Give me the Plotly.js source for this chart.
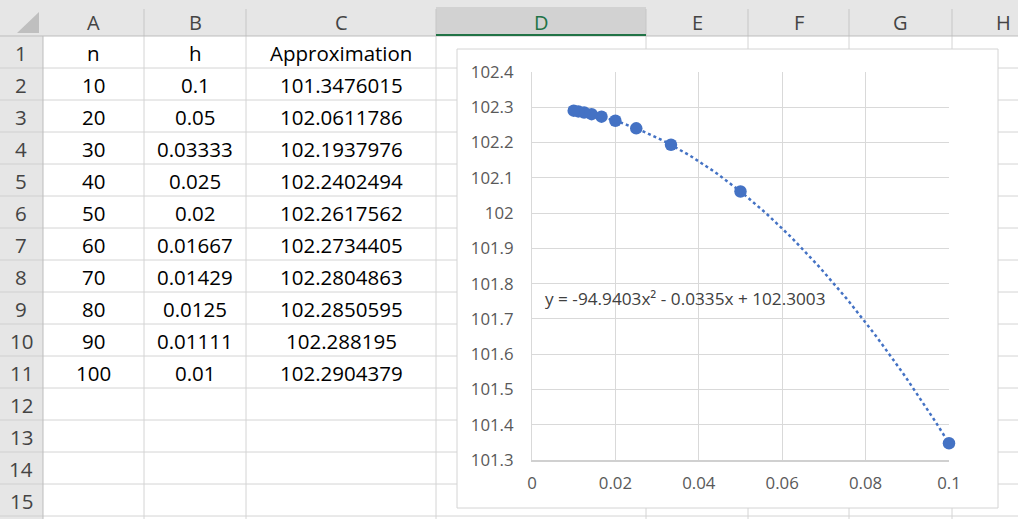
<!DOCTYPE html>
<html>
<head>
<meta charset="utf-8">
<script src="https://cdn.plot.ly/plotly-3.0.1.min.js"></script>
<style>html,body{margin:0;padding:0;background:#fff;overflow:hidden}#chart{width:1018px;height:519px}</style>
</head>
<body>
<div id="chart"></div>
<script>
// ---- data ----
var columnLetters = ["A", "B", "C", "D", "E", "F", "G", "H"];
var rowNumbers = [1, 2, 3, 4, 5, 6, 7, 8, 9, 10, 11, 12, 13, 14, 15];
var headerCells = ["n", "h", "Approximation"];
var nValues = [10, 20, 30, 40, 50, 60, 70, 80, 90, 100];
var hLabels = ["0.1", "0.05", "0.03333", "0.025", "0.02", "0.01667", "0.01429", "0.0125", "0.01111", "0.01"];
var hValues = [0.1, 0.05, 0.03333, 0.025, 0.02, 0.01667, 0.01429, 0.0125, 0.01111, 0.01];
var approxLabels = ["101.3476015", "102.0611786", "102.1937976", "102.2402494", "102.2617562", "102.2734405", "102.2804863", "102.2850595", "102.288195", "102.2904379"];
var approxValues = [101.3476015, 102.0611786, 102.1937976, 102.2402494, 102.2617562, 102.2734405, 102.2804863, 102.2850595, 102.288195, 102.2904379];
var equationText = "y = -94.9403x\u00b2 - 0.0335x + 102.3003";

// ---- layout geometry (pixels) ----
var W = 1018, H = 519;
var colEdges = [43, 144, 246, 436, 646, 748, 849, 952, 1060];
var headerTop = 7, headerBottom = 36, rowH = 32;
function px(x) { return x / W; }
function py(y) { return 1 - y / H; }

var shapes = [];
var ann = [];
function rect(x0, y0, x1, y1, fill, lineColor, lw) {
  shapes.push({type: "rect", xref: "paper", yref: "paper", layer: "below",
    x0: px(x0), x1: px(x1), y0: py(y1), y1: py(y0),
    fillcolor: fill, line: {color: lineColor || "rgba(0,0,0,0)", width: lw || 0}});
}
function line(x0, y0, x1, y1, color, lw) {
  shapes.push({type: "line", xref: "paper", yref: "paper", layer: "below",
    x0: px(x0), x1: px(x1), y0: py(y0), y1: py(y1), line: {color: color, width: lw || 1}});
}
function text(x, y, t, size, color, xanchor) {
  ann.push({xref: "paper", yref: "paper", x: px(x), y: py(y), text: t, showarrow: false,
    xanchor: xanchor || "center", yanchor: "middle",
    font: {family: "Open Sans, sans-serif", size: size, color: color}});
}

// header band and row-header column
rect(0, 0, W, headerBottom, "#e6e6e6");
rect(0, headerBottom, colEdges[0], H, "#e6e6e6");
// selected column D header
rect(colEdges[3], headerTop, colEdges[4], headerBottom, "#d2d2d2");
// header column separators
for (var i = 1; i < colEdges.length - 1; i++) line(colEdges[i], headerTop + 2, colEdges[i], headerBottom, "#c6c6c6", 1);
// row header separators
for (var r = 1; r <= rowNumbers.length; r++) {
  var yb = headerBottom + rowH * r;
  line(0, yb, colEdges[0], yb, "#d0d0d0", 1);
}
// sheet gridlines
for (var i = 1; i < colEdges.length - 1; i++) line(colEdges[i], headerBottom, colEdges[i], H, "#d4d4d4", 1);
for (var r = 1; r <= rowNumbers.length; r++) {
  var yb = headerBottom + rowH * r;
  line(colEdges[0], yb, W, yb, "#d4d4d4", 1);
}
// header borders
line(0, headerBottom, W, headerBottom, "#bdbdbd", 1);
line(colEdges[0], headerBottom, colEdges[0], H, "#bdbdbd", 1);
line(colEdges[3], headerBottom - 1, colEdges[4], headerBottom - 1, "#217346", 2);
// corner triangle
shapes.push({type: "path", xref: "paper", yref: "paper", layer: "below",
  path: "M " + px(17) + " " + py(33) + " L " + px(39) + " " + py(33) + " L " + px(39) + " " + py(12) + " Z",
  fillcolor: "#bfbfbf", line: {width: 0}});

// column letters
for (var i = 0; i < columnLetters.length; i++) {
  var cx = (colEdges[i] + colEdges[i + 1]) / 2;
  if (i === columnLetters.length - 1) cx = 1003;
  text(cx, 23, columnLetters[i], 20, i === 3 ? "#217346" : "#444444");
}
// row numbers
for (var r = 0; r < rowNumbers.length; r++) {
  text(21, headerBottom + rowH * r + 17, String(rowNumbers[r]), 20.5, "#444444");
}
// cell contents
function cellCenter(c) { return (colEdges[c] + colEdges[c + 1]) / 2; }
for (var c = 0; c < headerCells.length; c++) text(cellCenter(c), headerBottom + 17, headerCells[c], 20.5, "#000000");
for (var r = 0; r < nValues.length; r++) {
  var yc = headerBottom + rowH * (r + 1) + 17;
  text(cellCenter(0), yc, String(nValues[r]), 20.5, "#000000");
  text(cellCenter(1), yc, hLabels[r], 20.5, "#000000");
  text(cellCenter(2), yc, approxLabels[r], 20.5, "#000000");
}

// chart box
rect(457, 49, 998, 508, "#ffffff", "#d4d4d4", 1);

// equation label
ann.push({xref: "paper", yref: "paper", x: px(543), y: py(298), text: equationText, showarrow: false,
  xanchor: "left", yanchor: "middle", font: {family: "Open Sans, sans-serif", size: 17.2, color: "#404040"}});

// quadratic least-squares trendline computed from the data
function quadFit(xs, ys) {
  var S = [0, 0, 0, 0, 0], T = [0, 0, 0];
  for (var i = 0; i < xs.length; i++) {
    var p = 1;
    for (var k = 0; k < 5; k++) { S[k] += p; if (k < 3) T[k] += p * ys[i]; p *= xs[i]; }
  }
  var A = [[S[0], S[1], S[2], T[0]], [S[1], S[2], S[3], T[1]], [S[2], S[3], S[4], T[2]]];
  for (var i = 0; i < 3; i++) {
    for (var j = i + 1; j < 3; j++) {
      var f = A[j][i] / A[i][i];
      for (var k = i; k < 4; k++) A[j][k] -= f * A[i][k];
    }
  }
  var c = [0, 0, 0];
  for (var i = 2; i >= 0; i--) {
    var s = A[i][3];
    for (var k = i + 1; k < 3; k++) s -= A[i][k] * c[k];
    c[i] = s / A[i][i];
  }
  return c;
}
var coef = quadFit(hValues, approxValues);
var xMin = Math.min.apply(null, hValues), xMax = Math.max.apply(null, hValues);
var tx = [], ty = [];
for (var i = 0; i <= 120; i++) {
  var x = xMin + (xMax - xMin) * i / 120;
  tx.push(x); ty.push(coef[0] + coef[1] * x + coef[2] * x * x);
}

var traces = [
  {x: tx, y: ty, xaxis: "x", yaxis: "y", type: "scatter", mode: "lines", cliponaxis: false,
   line: {color: "#4472C4", width: 2.5, dash: "dot"}, hoverinfo: "skip"},
  {x: hValues, y: approxValues, xaxis: "x", yaxis: "y", type: "scatter", mode: "markers", cliponaxis: false,
   marker: {color: "#4472C4", size: 12.5, line: {width: 0}}}
];

var tickFont = {family: "Open Sans, sans-serif", size: 16.8, color: "#595959"};
var layout = {
  width: W, height: H, margin: {l: 0, r: 0, t: 0, b: 0},
  paper_bgcolor: "#ffffff", plot_bgcolor: "#ffffff", showlegend: false,
  xaxis: {domain: [px(532), px(949)], range: [0, 0.1], dtick: 0.02, tick0: 0,
    showgrid: true, gridcolor: "#d9d9d9", gridwidth: 1, zeroline: false,
    showline: true, linecolor: "#d0d0d0", linewidth: 1.5, ticks: "",
    tickfont: tickFont, ticklabelstandoff: 7, fixedrange: true},
  yaxis: {domain: [py(460), py(72)], range: [101.3, 102.4], dtick: 0.1, tick0: 101.3,
    showgrid: true, gridcolor: "#d9d9d9", gridwidth: 1, zeroline: false,
    showline: true, linecolor: "#d9d9d9", linewidth: 1, ticks: "",
    tickfont: tickFont, ticklabelstandoff: 14, fixedrange: true},
  shapes: shapes, annotations: ann
};
Plotly.newPlot("chart", traces, layout, {staticPlot: true, displayModeBar: false});
</script>
</body>
</html>
